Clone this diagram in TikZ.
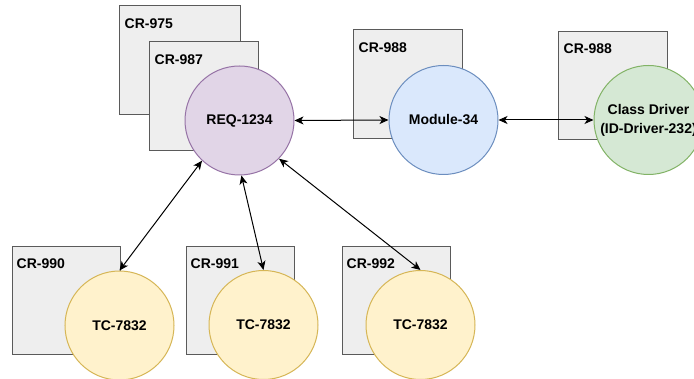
\documentclass[tikz,border=0pt]{standalone}
\usepackage{fontspec}
\setmainfont{Liberation Sans}
\usetikzlibrary{arrows.meta}
\definecolor{boxfill}{HTML}{EEEEEE}
\definecolor{boxline}{HTML}{5A5A5A}
\definecolor{reqfill}{HTML}{E1D5E7}
\definecolor{reqline}{HTML}{9673A6}
\definecolor{modfill}{HTML}{DAE8FC}
\definecolor{modline}{HTML}{6C8EBF}
\definecolor{clsfill}{HTML}{D5E8D4}
\definecolor{clsline}{HTML}{82B366}
\definecolor{tcfill}{HTML}{FFF2CC}
\definecolor{tcline}{HTML}{D6B656}
\begin{document}
\begin{tikzpicture}[x=1pt,y=-1pt,
  every node/.style={font=\fontsize{14}{19}\selectfont\bfseries, inner sep=0pt},
  crbox/.style={draw=boxline, fill=boxfill, line width=1pt, rectangle},
  crlabel/.style={anchor=west},
  item/.style={circle, line width=1pt, minimum size=109pt, align=center},
  conn/.style={draw=black, line width=1pt, {Stealth[length=9pt,width=8pt,inset=2.5pt]}-{Stealth[length=9pt,width=8pt,inset=2.5pt]}}
]
\useasboundingbox[fill=white] (0,0) rectangle (694,379);

% change-request boxes
\node[crbox, minimum width=121pt, minimum height=109pt] (cr975) at (179.5,60.5) {};
\node[crlabel] at ([shift={(6,18)}]cr975.north west) {CR-975};
\node[crbox, minimum width=109pt, minimum height=109pt] (cr987) at (203.5,96.5) {};
\node[crlabel] at ([shift={(6,18)}]cr987.north west) {CR-987};
\node[crbox, minimum width=109pt, minimum height=109pt] (cr988a) at (407.5,84.5) {};
\node[crlabel] at ([shift={(6,18)}]cr988a.north west) {CR-988};
\node[crbox, minimum width=109pt, minimum height=108pt] (cr988b) at (612.5,86) {};
\node[crlabel] at ([shift={(6,17)}]cr988b.north west) {CR-988};
\node[crbox, minimum width=108pt, minimum height=108pt] (cr990) at (66,301) {};
\node[crlabel] at ([shift={(5,17)}]cr990.north west) {CR-990};
\node[crbox, minimum width=108pt, minimum height=108pt] (cr991) at (240,301) {};
\node[crlabel] at ([shift={(5,17)}]cr991.north west) {CR-991};
\node[crbox, minimum width=108pt, minimum height=108pt] (cr992) at (396,301) {};
\node[crlabel] at ([shift={(5,17)}]cr992.north west) {CR-992};

% requirement, module, driver and test-case circles
\node[item, draw=reqline, fill=reqfill] (req) at (239.5,120.5) {REQ-1234};
\node[item, draw=modline, fill=modfill] (mod) at (443.5,120) {Module-34};
\node[item, draw=clsline, fill=clsfill] (cls) at (648.5,120) {Class Driver\\(ID-Driver-232)};
\node[item, draw=tcline, fill=tcfill] (tc1) at (119.5,325.5) {TC-7832};
\node[item, draw=tcline, fill=tcfill] (tc2) at (263.5,325) {TC-7832};
\node[item, draw=tcline, fill=tcfill] (tc3) at (420.5,325) {TC-7832};

% trace links
\draw[conn] (req.east) -- (mod.west);
\draw[conn] (mod.east) -- (cls.west);
\draw[conn] (req.-133.8) -- (tc1.north);
\draw[conn] (req.-88.5) -- (tc2.north);
\draw[conn] (req.-44.8) -- (tc3.north);
\end{tikzpicture}
\end{document}
